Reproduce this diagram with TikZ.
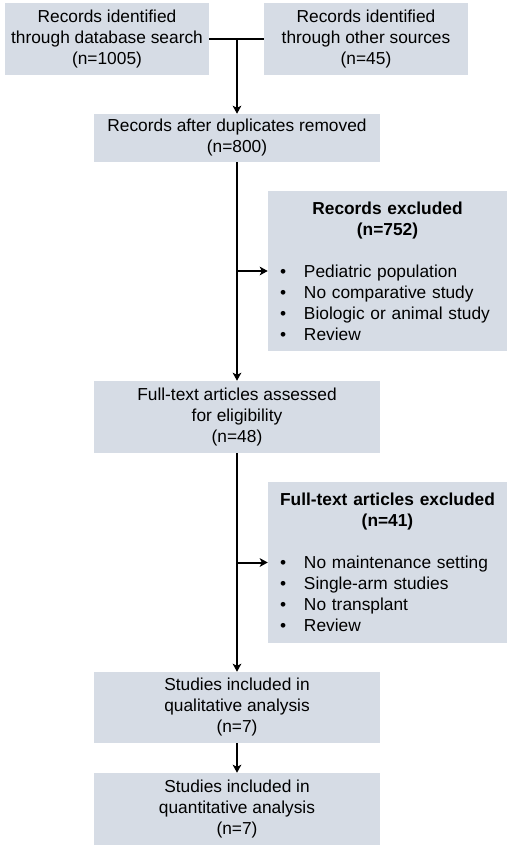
\documentclass[tikz,border=0pt]{standalone}
\usepackage{fontspec}
\setmainfont{Liberation Sans}
\usetikzlibrary{arrows.meta}
\definecolor{boxgray}{HTML}{D6DCE5}
\tikzset{
  box/.style={shape=rectangle, fill=boxgray, inner sep=0pt, align=center,
    font=\fontsize{13}{15.75}\selectfont},
  exclbox/.style={shape=rectangle, fill=boxgray, inner sep=0pt, text width=179.25pt,
    minimum width=179.25pt, font=\fontsize{13}{15.75}\selectfont},
  link/.style={line width=1.5pt, draw=black},
  flow/.style={link, -{Stealth[length=6pt,width=6.5pt,inset=1.5pt]}}
}
\newcommand{\bitem}[1]{\hspace*{9pt}\makebox[18pt][l]{\textbullet}#1}
\begin{document}
\begin{tikzpicture}[x=0.75pt, y=-0.75pt]
\useasboundingbox (0,0) rectangle (510,848);
\node[box, minimum width=153pt, minimum height=54pt] (db) at (107,39) {Records identified\\through database search\\(n=1005)};
\node[box, minimum width=153pt, minimum height=54pt] (other) at (366,39) {Records identified\\through other sources\\(n=45)};
\node[box, minimum width=214.5pt, minimum height=36pt] (dup) at (237,138) {Records after duplicates removed\\(n=800)};
\node[exclbox, minimum height=120pt] (excl1) at (387.5,271) {{\centering\bfseries Records excluded\\(n=752)\par}\vspace{15.75pt}\noindent
  \bitem{Pediatric population}\\\bitem{No comparative study}\\\bitem{Biologic or animal study}\\\bitem{Review}};
\node[box, minimum width=214.5pt, minimum height=54pt] (elig) at (237,417) {Full-text articles assessed\\for eligibility\\(n=48)};
\node[exclbox, minimum height=120.75pt] (excl2) at (387.5,562.5) {{\centering\bfseries Full-text articles excluded\\(n=41)\par}\vspace{15.75pt}\noindent
  \bitem{No maintenance setting}\\\bitem{Single-arm studies}\\\bitem{No transplant}\\\bitem{Review}};
\node[box, minimum width=214.5pt, minimum height=53.25pt] (qual) at (237,707.5) {Studies included in\\qualitative analysis\\(n=7)};
\node[box, minimum width=214.5pt, minimum height=54pt] (quant) at (237,809) {Studies included in\\quantitative analysis\\(n=7)};
\coordinate (join) at (237,39);
\coordinate (split1) at (237,271);
\coordinate (split2) at (237,562.5);
\draw [link] (db.east) -- (other.west);
\draw [flow] (join) -- (dup.north);
\draw [flow] (dup.south) -- (elig.north);
\draw [flow] (split1) -- (excl1.west);
\draw [flow] (elig.south) -- (qual.north);
\draw [flow] (split2) -- (excl2.west);
\draw [flow] (qual.south) -- (quant.north);
\end{tikzpicture}
\end{document}
